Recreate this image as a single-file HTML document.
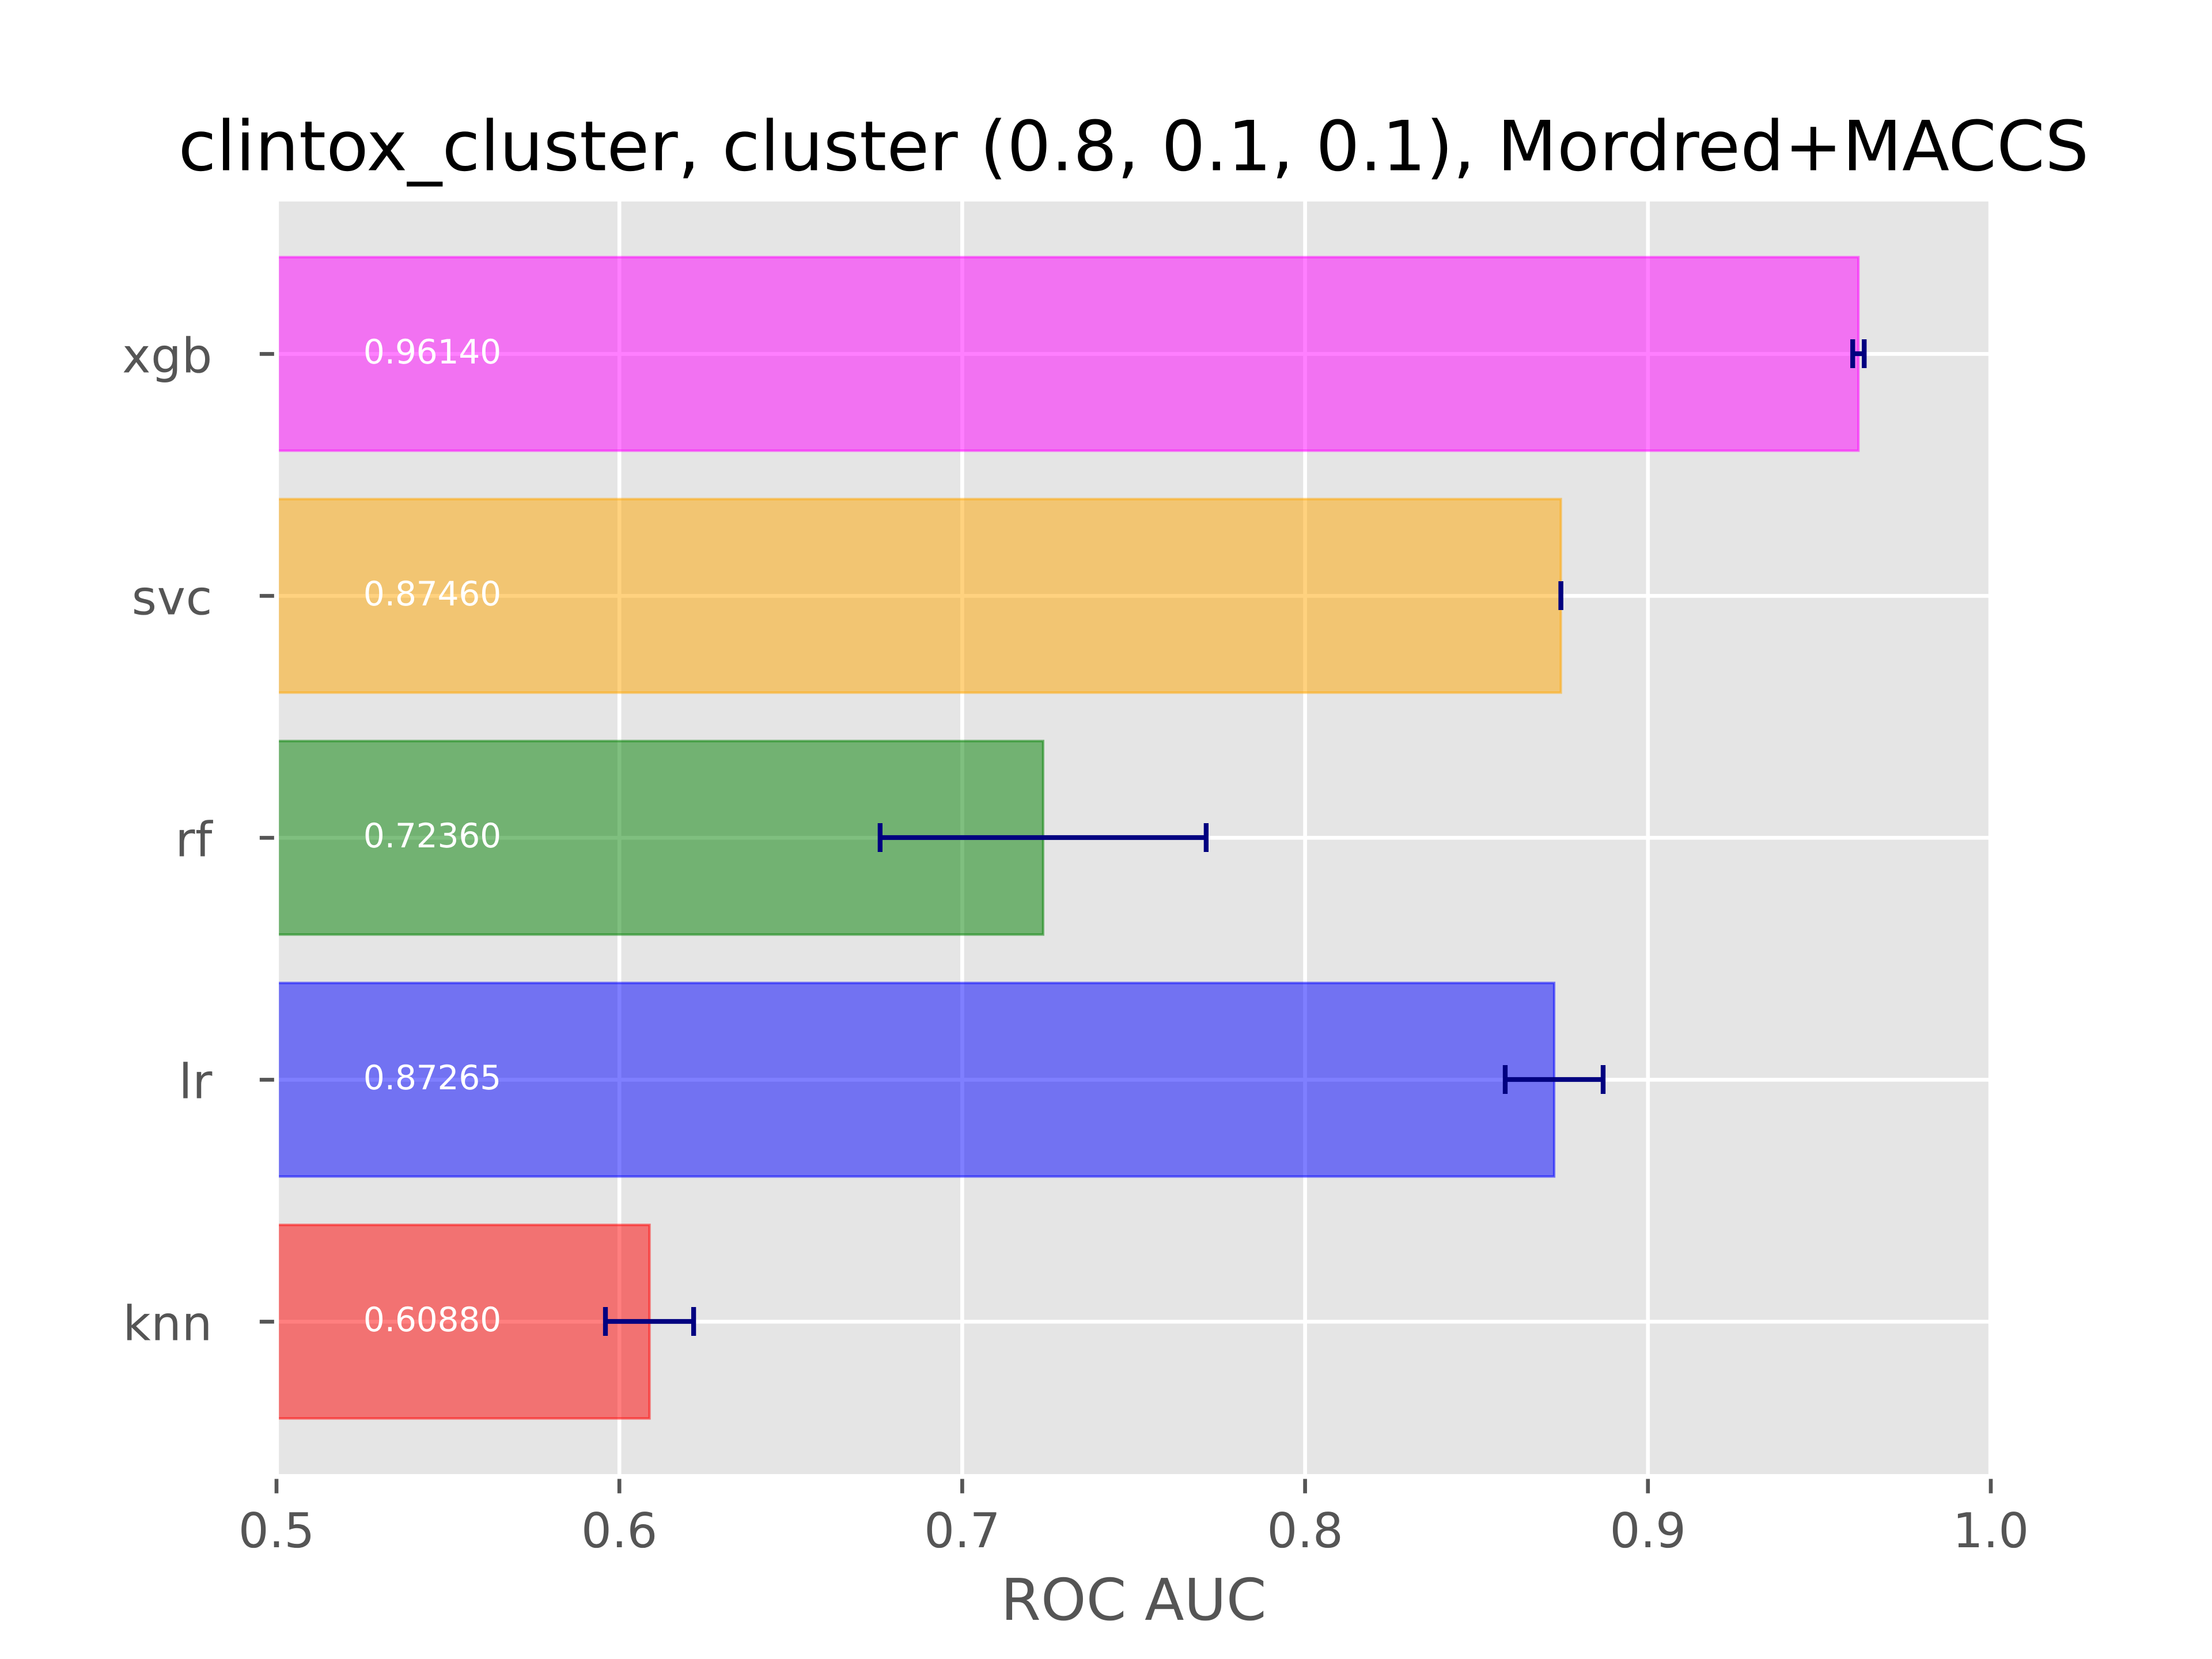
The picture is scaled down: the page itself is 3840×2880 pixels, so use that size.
<!DOCTYPE html>
<html lang="en">
<head>
<meta charset="utf-8">
<title>clintox_cluster ROC AUC</title>
<style>
html,body{margin:0;padding:0;background:#fff;}
svg{display:block;}
text{font-family:"DejaVu Sans","Liberation Sans",sans-serif;text-rendering:geometricPrecision;}
</style>
</head>
<body>
<svg id="chart" xmlns="http://www.w3.org/2000/svg" width="3840" height="2880" viewBox="0 0 3840 2880">
  <rect x="0" y="0" width="3840" height="2880" fill="#ffffff"/>
  <rect x="480" y="345.6" width="2976" height="2217.6" fill="#e5e5e5"/>
  <g id="grid"></g>
  <g id="ticks"></g>
  <g id="bars"></g>
  <rect x="480" y="345.6" width="2976" height="2217.6" fill="none" stroke="#ffffff" stroke-width="8.33"/>
  <g id="errors"></g>
  <g id="values"></g>
  <g id="xlabels"></g>
  <g id="ylabels"></g>
  <text x="1968" y="295.6" text-anchor="middle" font-size="120" letter-spacing="0.18" fill="#000000">clintox_cluster, cluster (0.8, 0.1, 0.1), Mordred+MACCS</text>
  <text x="1968" y="2812" text-anchor="middle" font-size="100" fill="#555555">ROC AUC</text>
</svg>
<script>
const categories = ['knn', 'lr', 'rf', 'svc', 'xgb'];
const scores = [0.6088, 0.87265, 0.7236, 0.8746, 0.9614];
const errors = [0.01286, 0.01428, 0.04755, 0, 0.00168];
const scoreLabels = ['0.60880', '0.87265', '0.72360', '0.87460', '0.96140'];
const barColors = ['#ff0000', '#0000ff', '#008000', '#ffa500', '#ff00ff'];
const xTicks = [0.5, 0.6, 0.7, 0.8, 0.9, 1.0];
const xTickLabels = ['0.5', '0.6', '0.7', '0.8', '0.9', '1.0'];

const NS = 'http://www.w3.org/2000/svg';
const plot = {left: 480, right: 3456, top: 345.6, bottom: 2563.2};
const xDomain = [0.5, 1.0];
const yDomain = [-0.64, 4.64];
const barWidth = 0.8;
const labelX = 0.525;

function xScale(v) {
  return plot.left + (v - xDomain[0]) / (xDomain[1] - xDomain[0]) * (plot.right - plot.left);
}
function yScale(i) {
  return plot.bottom - (i - yDomain[0]) / (yDomain[1] - yDomain[0]) * (plot.bottom - plot.top);
}
function make(tag, attrs, parent) {
  const el = document.createElementNS(NS, tag);
  for (const k in attrs) el.setAttribute(k, attrs[k]);
  parent.appendChild(el);
  return el;
}
const gGrid = document.getElementById('grid');
const gTicks = document.getElementById('ticks');
const gBars = document.getElementById('bars');
const gErrors = document.getElementById('errors');
const gValues = document.getElementById('values');
const gX = document.getElementById('xlabels');
const gY = document.getElementById('ylabels');

xTicks.forEach(function (t, i) {
  const x = xScale(t);
  const grid = make('line', {x1: x, x2: x, y1: plot.top, y2: plot.bottom, stroke: '#ffffff', 'stroke-width': 6.67}, gGrid);
  
  
  const tick = make('line', {x1: x, x2: x, y1: plot.bottom, y2: plot.bottom + 29.17, stroke: '#555555', 'stroke-width': 6.67}, gTicks);
  
  
  const label = make('text', {x: x, y: 2686, 'text-anchor': 'middle', 'font-size': 83.33, fill: '#555555'}, gX);
  
  
  label.textContent = xTickLabels[i];
});

categories.forEach(function (name, i) {
  const y = yScale(i);
  const snappedY = Math.round(y);
  const grid = make('line', {x1: plot.left, x2: plot.right, y1: y, y2: y, stroke: '#ffffff', 'stroke-width': 6.67}, gGrid);
  
  
  const tick = make('line', {x1: plot.left - 29.17, x2: plot.left, y1: y, y2: y, stroke: '#555555', 'stroke-width': 6.67}, gTicks);
  
  
  const label = make('text', {x: 369, y: y + 32, 'text-anchor': 'end', 'font-size': 83.33, 'letter-spacing': 0.6, fill: '#555555'}, gY);
  
  
  label.textContent = name;

  const top = yScale(i + barWidth / 2);
  const bottom = yScale(i - barWidth / 2);
  const bar = make('rect', {
    x: xScale(xDomain[0]), y: top,
    width: xScale(scores[i]) - xScale(xDomain[0]), height: bottom - top,
    fill: barColors[i], 'fill-opacity': 0.5,
    stroke: barColors[i], 'stroke-opacity': 0.5, 'stroke-width': 4.17
  }, gBars);
  
  

  const lo = xScale(scores[i] - errors[i]);
  const hi = xScale(scores[i] + errors[i]);
  const stem = make('line', {x1: lo, x2: hi, y1: snappedY, y2: snappedY, stroke: '#000080', 'stroke-width': 8.33}, gErrors);
  
  
  const capLo = make('line', {x1: lo, x2: lo, y1: snappedY - 25, y2: snappedY + 25, stroke: '#000080', 'stroke-width': 8.33}, gErrors);
  
  
  const capHi = make('line', {x1: hi, x2: hi, y1: snappedY - 25, y2: snappedY + 25, stroke: '#000080', 'stroke-width': 8.33}, gErrors);
  
  

  const value = make('text', {x: xScale(labelX) + 2, y: y + 16.5, 'font-size': 58.33, 'letter-spacing': -0.3, fill: '#ffffff'}, gValues);
  
  
  value.textContent = scoreLabels[i];
});
</script>
</body>
</html>
